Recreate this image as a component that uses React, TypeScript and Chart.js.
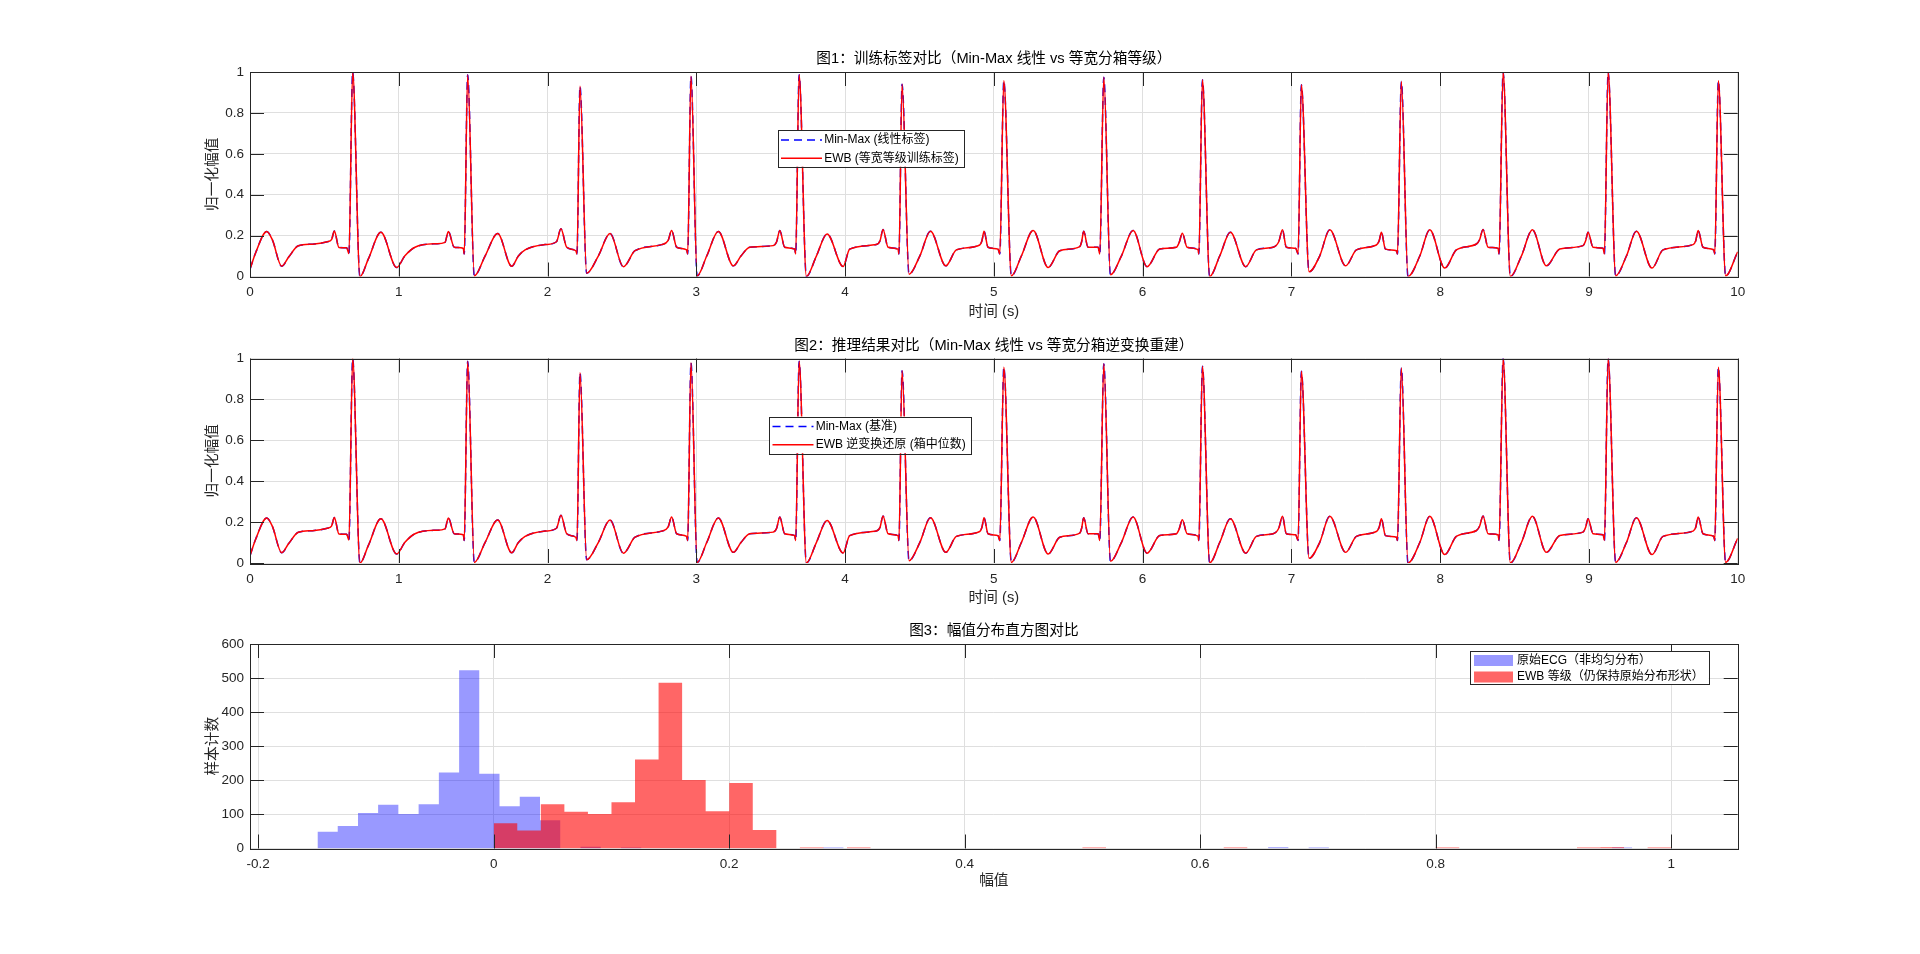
import React, { useEffect, useRef } from 'react';
import Chart from 'chart.js/auto';

// ECG trace (10 s): time in seconds, normalised amplitude
const ecgTime = [
  0.000, 0.040, 0.112, 0.150, 0.213, 0.260, 0.325, 0.420, 0.520, 0.548, 0.567, 0.598, 0.650, 0.665, 0.690, 0.739, 0.795, 0.880, 0.986,
  1.040, 1.109, 1.250, 1.311, 1.333, 1.373, 1.434, 1.440, 1.463, 1.508, 1.580, 1.665, 1.759, 1.804, 1.849, 1.983,
  2.060, 2.090, 2.129, 2.190, 2.198, 2.218, 2.263, 2.341, 2.420, 2.510, 2.588, 2.767, 2.810, 2.834, 2.868, 2.935, 2.942, 2.964,
  3.006, 3.070, 3.148, 3.249, 3.300, 3.359, 3.516, 3.540, 3.561, 3.594, 3.662, 3.668, 3.691, 3.740, 3.807, 3.879, 3.987,
  4.031, 4.210, 4.235, 4.255, 4.289, 4.356, 4.362, 4.383, 4.430, 4.502, 4.574, 4.677, 4.748, 4.905, 4.920, 4.934, 4.961,
  5.028, 5.040, 5.067, 5.118, 5.185, 5.264, 5.365, 5.443, 5.577, 5.590, 5.604, 5.633, 5.701, 5.712, 5.739, 5.784, 5.857, 5.936,
  6.030, 6.115, 6.227, 6.245, 6.267, 6.299, 6.372, 6.378, 6.402, 6.451, 6.518, 6.590, 6.693, 6.765, 6.877, 6.915, 6.940, 6.966,
  7.029, 7.045, 7.067, 7.119, 7.190, 7.258, 7.365, 7.437, 7.571, 7.590, 7.605, 7.632, 7.706, 7.713, 7.739, 7.784, 7.863, 7.930,
  8.031, 8.109, 8.244, 8.265, 8.288, 8.322, 8.389, 8.396, 8.423, 8.472, 8.546, 8.620, 8.714, 8.804, 8.960, 8.978, 8.994,
  9.028, 9.095, 9.104, 9.129, 9.180, 9.252, 9.319, 9.424, 9.498, 9.700, 9.718, 9.734, 9.767, 9.839, 9.846, 9.870, 9.919, 10.000,
];
const ecgNorm = [
  0.036, 0.120, 0.220, 0.180, 0.050, 0.095, 0.150, 0.158, 0.170, 0.180, 0.222, 0.142, 0.140, 0.112, 1.000, 0.000, 0.085, 0.216, 0.044,
  0.100, 0.143, 0.160, 0.167, 0.220, 0.143, 0.138, 0.110, 0.987, 0.003, 0.100, 0.210, 0.050, 0.100, 0.130, 0.156,
  0.170, 0.233, 0.143, 0.126, 0.110, 0.930, 0.016, 0.100, 0.210, 0.048, 0.126, 0.156, 0.175, 0.225, 0.143, 0.130, 0.110, 0.979,
  0.003, 0.100, 0.220, 0.052, 0.100, 0.143, 0.151, 0.170, 0.225, 0.143, 0.134, 0.110, 0.987, 0.000, 0.100, 0.208, 0.049,
  0.134, 0.156, 0.175, 0.230, 0.143, 0.134, 0.110, 0.940, 0.011, 0.100, 0.221, 0.052, 0.130, 0.154, 0.175, 0.221, 0.143,
  0.134, 0.110, 0.957, 0.003, 0.100, 0.225, 0.044, 0.126, 0.146, 0.170, 0.221, 0.143, 0.143, 0.110, 0.974, 0.008, 0.100, 0.225,
  0.048, 0.134, 0.143, 0.165, 0.211, 0.143, 0.131, 0.110, 0.962, 0.000, 0.100, 0.216, 0.048, 0.130, 0.143, 0.170, 0.228, 0.143,
  0.138, 0.110, 0.938, 0.023, 0.100, 0.228, 0.052, 0.130, 0.154, 0.175, 0.216, 0.134, 0.126, 0.110, 0.954, 0.000, 0.100, 0.228,
  0.041, 0.130, 0.159, 0.180, 0.230, 0.143, 0.138, 0.110, 1.000, 0.000, 0.100, 0.228, 0.052, 0.134, 0.151, 0.175, 0.216,
  0.143, 0.138, 0.110, 1.000, 0.003, 0.100, 0.221, 0.041, 0.130, 0.156, 0.175, 0.225, 0.143, 0.130, 0.110, 0.957, 0.003, 0.121,
];

// histogram of raw ECG amplitude (bin left edges + counts)
const rawBinWidth = 0.01718;
const rawBinLeft = [-0.1497, -0.1325, -0.1153, -0.0982, -0.0810, -0.0638, -0.0466, -0.0294, -0.0123, 0.0049, 0.0221, 0.0393, 0.0737, 0.1081, 0.2798, 0.6577, 0.6921, 0.9498];
const rawCounts = [49, 66, 104, 128, 101, 130, 223, 523, 219, 124, 152, 83, 5, 3, 3, 4, 3, 3];

// histogram of EWB levels
const ewbBinWidth = 0.02;
const ewbBinLeft = [0, 0.02, 0.04, 0.06, 0.08, 0.10, 0.12, 0.14, 0.16, 0.18, 0.20, 0.22, 0.26, 0.30, 0.50, 0.62, 0.80, 0.92, 0.94, 0.98];
const ewbCounts = [74, 53, 130, 108, 101, 136, 261, 486, 201, 109, 192, 54, 3, 3, 3, 3, 3, 3, 4, 3];

const timeTicks = { min: 0, max: 10, step: 1 };
const ampTicks = { min: 0, max: 1, step: 0.2 };
const histX = { min: -0.207, max: 1.0565, step: 0.2 };
const histY = { min: 0, max: 600, step: 100 };

const FONT = '"Liberation Sans", "Noto Sans CJK SC", sans-serif';
const AXIS_COLOR = '#262626';
const GRID_COLOR = '#dfdfdf';

const ecgPoints = ecgTime.map((t, i) => ({ x: t, y: ecgNorm[i] }));

function stepPoints(lefts: number[], counts: number[], width: number) {
  const pts: { x: number; y: number }[] = [];
  lefts.forEach((l, i) => {
    if (i === 0 || Math.abs(lefts[i - 1] + width - l) > 1e-3) pts.push({ x: l, y: 0 });
    pts.push({ x: l, y: counts[i] });
    const next = lefts[i + 1];
    if (next === undefined || Math.abs(next - (l + width)) > 1e-3) pts.push({ x: l + width, y: 0 });
  });
  return pts;
}

// MATLAB-style tick text: 1 -> "1", 0.2 -> "0.2"
const matlabTick = (v: number | string) => String(Number(Number(v).toFixed(4)));

// MATLAB-like axes box, inward ticks, title and legend
const matlabAxes = {
  id: 'matlabAxes',
  afterDatasetsDraw(chart: any, _args: any, opts: any) {
    const { ctx, chartArea: a, scales } = chart;
    const tl = 14;
    ctx.save();
    ctx.strokeStyle = AXIS_COLOR;
    ctx.lineWidth = 1;
    ctx.beginPath();
    scales.x.ticks.forEach((t: any) => {
      const px = Math.round(scales.x.getPixelForValue(t.value)) + 0.5;
      ctx.moveTo(px, a.bottom); ctx.lineTo(px, a.bottom - tl);
      ctx.moveTo(px, a.top); ctx.lineTo(px, a.top + tl);
    });
    scales.y.ticks.forEach((t: any) => {
      const py = Math.round(scales.y.getPixelForValue(t.value)) + 0.5;
      ctx.moveTo(a.left, py); ctx.lineTo(a.left + tl, py);
      ctx.moveTo(a.right, py); ctx.lineTo(a.right - tl, py);
    });
    ctx.stroke();
    ctx.strokeRect(Math.round(a.left) + 0.5, Math.round(a.top) + 0.5, Math.round(a.width), Math.round(a.height));

    // title
    ctx.fillStyle = '#000';
    ctx.font = `14.67px ${FONT}`;
    ctx.textAlign = 'center';
    ctx.textBaseline = 'middle';
    ctx.fillText(opts.title, (a.left + a.right) / 2, a.top - 13);

    // legend
    const lg = opts.legend;
    ctx.font = `12px ${FONT}`;
    const items = chart.data.datasets;
    const textW = Math.max(...items.map((d: any) => ctx.measureText(d.label).width));
    const x0 = lg.left;
    const y0 = a.top + lg.top;
    const w = lg.textOffset + textW + 5;
    ctx.fillStyle = '#fff';
    ctx.fillRect(x0, y0, w, lg.height);
    ctx.strokeStyle = AXIS_COLOR;
    ctx.strokeRect(Math.round(x0) + 0.5, Math.round(y0) + 0.5, Math.round(w), Math.round(lg.height));
    items.forEach((d: any, i: number) => {
      const cy = y0 + lg.rows[i];
      if (lg.kind === 'line') {
        ctx.save();
        ctx.strokeStyle = d.borderColor;
        ctx.lineWidth = d.borderWidth;
        ctx.setLineDash(d.borderDash || []);
        ctx.beginPath();
        ctx.moveTo(x0 + 3.5, cy);
        ctx.lineTo(x0 + 44.5, cy);
        ctx.stroke();
        ctx.restore();
      } else {
        ctx.fillStyle = d.backgroundColor;
        ctx.fillRect(x0 + 4, cy - 5.5, 39, 11);
      }
      ctx.fillStyle = '#000';
      ctx.textAlign = 'left';
      ctx.textBaseline = 'middle';
      ctx.fillText(d.label, x0 + lg.textOffset, cy);
    });
    ctx.restore();
  },
};

function baseScales(xr: any, yr: any, xTitle: string, yTitle: string, xAxisH: number) {
  const tickFont = { family: FONT, size: 13.5 };
  const titleFont = { family: FONT, size: 14.67 };
  return {
    x: {
      type: 'linear',
      min: xr.min,
      max: xr.max,
      ticks: {
        stepSize: xr.step, includeBounds: false, color: AXIS_COLOR, font: tickFont, padding: 8,
        maxRotation: 0, autoSkip: false, callback: matlabTick,
      },
      grid: { color: GRID_COLOR, drawTicks: false },
      border: { display: false },
      title: { display: true, text: xTitle, color: AXIS_COLOR, font: titleFont, padding: { top: 0, bottom: 0 } },
      afterFit: (s: any) => { s.height = xAxisH; },
    },
    y: {
      type: 'linear',
      min: yr.min,
      max: yr.max,
      ticks: { stepSize: yr.step, includeBounds: false, color: AXIS_COLOR, font: tickFont, padding: 6, callback: matlabTick },
      grid: { color: GRID_COLOR, drawTicks: false },
      border: { display: false },
      title: { display: true, text: yTitle, color: AXIS_COLOR, font: titleFont, padding: { top: 4, bottom: 0 } },
      afterFit: (s: any) => { s.width = 50; },
    },
  };
}

function ecgConfig(title: string, labels: string[], legendLeft: number, padTop: number, padBottom: number) {
  return {
    type: 'line',
    data: {
      datasets: [
        {
          label: labels[0], data: ecgPoints, borderColor: '#0000ff', borderWidth: 1.5, borderDash: [8, 5],
          pointRadius: 0, cubicInterpolationMode: 'monotone', fill: false, order: 2,
        },
        {
          label: labels[1], data: ecgPoints, borderColor: '#ff0000', borderWidth: 1.5,
          pointRadius: 0, cubicInterpolationMode: 'monotone', fill: false, order: 1,
        },
      ],
    },
    options: {
      animation: false,
      responsive: true,
      maintainAspectRatio: false,
      layout: { padding: { left: 200, right: 182.3, top: padTop, bottom: padBottom } },
      plugins: {
        legend: { display: false },
        tooltip: { enabled: false },
        matlabAxes: {
          title,
          legend: { kind: 'line', left: legendLeft, top: 58, height: 36.7, rows: [10, 28.3], textOffset: 46.7 },
        },
      },
      scales: baseScales(timeTicks, ampTicks, '时间 (s)', '归一化幅值', 44),
    },
    plugins: [matlabAxes],
  };
}

const config1 = ecgConfig(
  '图1：训练标签对比（Min-Max 线性 vs 等宽分箱等级）',
  ['Min-Max (线性标签)', 'EWB (等宽等级训练标签)'],
  777.5, 72, 9.5,
);

const config2 = ecgConfig(
  '图2：推理结果对比（Min-Max 线性 vs 等宽分箱逆变换重建）',
  ['Min-Max (基准)', 'EWB 逆变换还原 (箱中位数)'],
  769, 28.5, 8,
);

const config3 = {
  type: 'line',
  data: {
    datasets: [
      {
        label: '原始ECG（非均匀分布）', data: stepPoints(rawBinLeft, rawCounts, rawBinWidth),
        stepped: true, borderWidth: 0, borderColor: 'rgba(0,0,255,0)', backgroundColor: 'rgba(0,0,255,0.4)',
        pointRadius: 0, fill: 'origin', order: 2,
      },
      {
        label: 'EWB 等级（仍保持原始分布形状）', data: stepPoints(ewbBinLeft, ewbCounts, ewbBinWidth),
        stepped: true, borderWidth: 0, borderColor: 'rgba(255,0,0,0)', backgroundColor: 'rgba(255,0,0,0.6)',
        pointRadius: 0, fill: 'origin', order: 1,
      },
    ],
  },
  options: {
    animation: false,
    responsive: true,
    maintainAspectRatio: false,
    layout: { padding: { left: 200, right: 182.3, top: 29, bottom: 64.7 } },
    plugins: {
      legend: { display: false },
      tooltip: { enabled: false },
      matlabAxes: {
        title: '图3：幅值分布直方图对比',
        legend: { kind: 'patch', left: 1470, top: 7, height: 33, rows: [9.5, 26], textOffset: 47 },
      },
    },
    scales: baseScales(histX, histY, '幅值', '样本计数', 40.8),
  },
  plugins: [matlabAxes],
};

function ChartPanel({ config, top, height }: { config: any; top: number; height: number }) {
  const canvasRef = useRef<HTMLCanvasElement>(null);

  useEffect(() => {
    if (!canvasRef.current) return;
    const chart = new Chart(canvasRef.current, config);
    return () => {
      chart.destroy();
    };
  }, [config]);

  return (
    <div style={{ position: 'absolute', left: 0, top, width: 1920, height }}>
      <canvas ref={canvasRef} />
    </div>
  );
}

export default function App() {
  return (
    <div style={{ position: 'absolute', left: 0, top: 0, width: 1920, height: 954, background: '#fff', overflow: 'hidden' }}>
      <ChartPanel config={config1} top={0} height={330} />
      <ChartPanel config={config2} top={330} height={285} />
      <ChartPanel config={config3} top={615} height={339} />
    </div>
  );
}
